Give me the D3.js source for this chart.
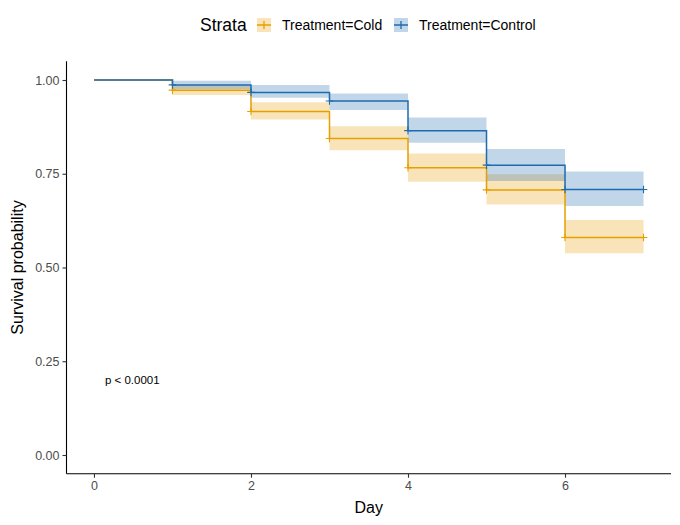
<!DOCTYPE html>
<html>
<head>
<meta charset="utf-8">
<script src="https://cdn.jsdelivr.net/npm/d3@7"></script>
<style>
html, body { margin: 0; padding: 0; background: #fff; }
svg { display: block; font-family: "Liberation Sans", Arial, Helvetica, sans-serif; }
</style>
</head>
<body>
<svg id="chart" width="680" height="525"></svg>
<script>
// ---- Data ----
const stepTimes = [0, 1, 2, 3, 4, 5, 6];
const endTime = 7;
const censorTimes = [1, 2, 3, 4, 5, 6, 7];

const coldSurv = [1.000, 0.973, 0.916, 0.844, 0.766, 0.707, 0.580];
const coldLower = [1.000, 0.960, 0.895, 0.813, 0.729, 0.668, 0.538];
const coldUpper = [1.000, 0.987, 0.941, 0.877, 0.804, 0.749, 0.627];

const controlSurv = [1.000, 0.987, 0.967, 0.944, 0.865, 0.773, 0.708];
const controlLower = [1.000, 0.976, 0.953, 0.920, 0.833, 0.731, 0.664];
const controlUpper = [1.000, 0.998, 0.987, 0.964, 0.900, 0.816, 0.756];

const strataNames = ["Treatment=Cold", "Treatment=Control"];
const strataColors = ["#E69F00", "#1F6BB0"];

const xTicks = [0, 2, 4, 6];
const yTicks = [0, 0.25, 0.5, 0.75, 1];
const pValueText = "p < 0.0001";
const pValuePos = [0.14, 0.2];

// ---- Build series ----
const series = [
  { name: strataNames[0], color: strataColors[0], surv: coldSurv, lo: coldLower, hi: coldUpper },
  { name: strataNames[1], color: strataColors[1], surv: controlSurv, lo: controlLower, hi: controlUpper }
];

const svg = d3.select("#chart");

const x = d3.scaleLinear().domain([-0.35, 7.35]).range([66.5, 671]);
const y = d3.scaleLinear().domain([-0.05, 1.05]).range([473.75, 61.25]);

function survAt(arr, t) {
  let idx = 0;
  for (let i = 0; i < stepTimes.length; i++) if (stepTimes[i] <= t) idx = i;
  return arr[idx];
}

const area = d3.area()
  .curve(d3.curveStepAfter)
  .x(d => x(d.t))
  .y0(d => y(d.lo))
  .y1(d => y(d.hi));

const line = d3.line()
  .curve(d3.curveStepAfter)
  .x(d => x(d.t))
  .y(d => y(d.s));

const gPlot = svg.append("g");

series.forEach(s => {
  const pts = stepTimes.map((t, i) => ({ t, s: s.surv[i], lo: s.lo[i], hi: s.hi[i] }));
  const last = pts[pts.length - 1];
  pts.push({ t: endTime, s: last.s, lo: last.lo, hi: last.hi });
  s.pts = pts;
  gPlot.append("path")
    .datum(pts)
    .attr("d", area)
    .attr("fill", s.color)
    .attr("fill-opacity", 0.28)
    .attr("stroke", "none");
});

series.forEach(s => {
  gPlot.append("path")
    .datum(s.pts)
    .attr("d", line)
    .attr("fill", "none")
    .attr("stroke", s.color)
    .attr("stroke-width", 1.5);
  censorTimes.forEach(t => {
    const cx = x(t), cy = y(survAt(s.surv, t));
    gPlot.append("path")
      .attr("d", `M${cx - 3.8},${cy}H${cx + 3.8}M${cx},${cy - 3.8}V${cy + 3.8}`)
      .attr("stroke", s.color)
      .attr("stroke-width", 1.1)
      .attr("fill", "none");
  });
});

// p-value
svg.append("text")
  .attr("x", x(pValuePos[0]))
  .attr("y", y(pValuePos[1]))
  .attr("dominant-baseline", "central")
  .attr("font-size", 11.5)
  .attr("fill", "#000")
  .text(pValueText);

// axes
const xAxis = svg.append("g").attr("transform", "translate(0,473.75)")
  .call(d3.axisBottom(x).tickValues(xTicks).tickFormat(d3.format("d")).tickSize(4).tickPadding(3));
const yAxis = svg.append("g").attr("transform", "translate(66.5,0)")
  .call(d3.axisLeft(y).tickValues(yTicks).tickFormat(d3.format(".2f")).tickSize(4).tickPadding(3));

[xAxis, yAxis].forEach(g => {
  g.select(".domain").attr("stroke", "#000").attr("stroke-width", 1.1);
  g.selectAll(".tick line").attr("stroke", "#333").attr("stroke-width", 1.1);
  g.selectAll(".tick text").attr("fill", "#4D4D4D").attr("font-size", 12.5)
    .attr("font-family", "Liberation Sans, Arial, sans-serif");
});
xAxis.select(".domain").attr("d", `M66.5,0H671`);
yAxis.select(".domain").attr("d", `M0,61.25V473.75`);

// axis titles
svg.append("text")
  .attr("x", (66.5 + 671) / 2)
  .attr("y", 507)
  .attr("text-anchor", "middle")
  .attr("dominant-baseline", "central")
  .attr("font-size", 16)
  .attr("fill", "#000")
  .text("Day");

svg.append("text")
  .attr("transform", `translate(17,${(61.25 + 473.75) / 2}) rotate(-90)`)
  .attr("text-anchor", "middle")
  .attr("dominant-baseline", "central")
  .attr("font-size", 16)
  .attr("fill", "#000")
  .text("Survival probability");

// legend
const legend = svg.append("g");
legend.append("text")
  .attr("x", 200)
  .attr("y", 25)
  .attr("dominant-baseline", "central")
  .attr("font-size", 17.5)
  .attr("fill", "#000")
  .text("Strata");

const keyX = [257, 394];
series.forEach((s, i) => {
  const kx = keyX[i], ky = 18, ks = 14;
  legend.append("rect")
    .attr("x", kx).attr("y", ky).attr("width", ks).attr("height", ks)
    .attr("fill", s.color).attr("fill-opacity", 0.28);
  legend.append("path")
    .attr("d", `M${kx},${ky + ks / 2}H${kx + ks}M${kx + ks / 2},${ky + ks / 2 - 4}V${ky + ks / 2 + 4}`)
    .attr("stroke", s.color).attr("stroke-width", 1.3).attr("fill", "none");
  legend.append("text")
    .attr("x", kx + 25)
    .attr("y", 25)
    .attr("dominant-baseline", "central")
    .attr("font-size", 14)
    .attr("fill", "#000")
    .text(s.name);
});
</script>
</body>
</html>
